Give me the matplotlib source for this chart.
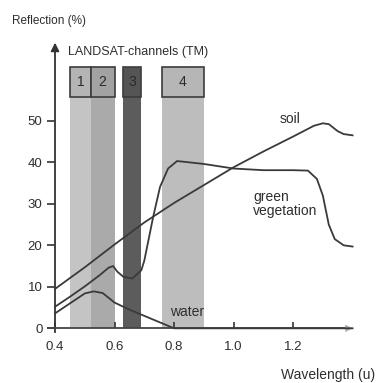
import matplotlib
matplotlib.use("Agg")
import matplotlib.pyplot as plt
from matplotlib.patches import Rectangle

plt.rcParams['font.family'] = ['Liberation Sans', 'DejaVu Sans']

# ---- data ----
soil_x = [0.40, 0.50, 0.60, 0.70, 0.80, 0.90, 1.00, 1.10, 1.20, 1.27, 1.30, 1.32, 1.35, 1.37, 1.40]
soil_y = [9.5, 14.7, 20.2, 25.5, 30.2, 34.5, 38.8, 42.6, 46.2, 48.8, 49.4, 49.2, 47.5, 46.8, 46.5]

veg_x = [0.40, 0.45, 0.50, 0.55, 0.58, 0.595, 0.61, 0.63, 0.66, 0.69, 0.70, 0.73, 0.753, 0.78,
         0.81, 0.85, 0.90, 1.00, 1.10, 1.20, 1.25, 1.28, 1.30, 1.32, 1.34, 1.37, 1.40]
veg_y = [5.2, 7.6, 10.1, 12.8, 14.6, 15.0, 13.6, 12.4, 12.0, 14.0, 16.3, 26.9, 34.1, 38.5,
         40.3, 40.0, 39.6, 38.5, 38.1, 38.1, 38.0, 36.0, 32.0, 25.0, 21.5, 20.0, 19.7]

water_x = [0.40, 0.45, 0.50, 0.53, 0.56, 0.60, 0.65, 0.70, 0.75, 0.80, 1.00, 1.20, 1.40]
water_y = [3.6, 6.0, 8.4, 8.9, 8.5, 6.2, 4.5, 3.0, 1.5, 0.0, 0.0, 0.0, 0.0]

band_names = ['1', '2', '3', '4']
band_lo = [0.45, 0.52, 0.63, 0.76]
band_hi = [0.52, 0.60, 0.69, 0.90]

y_ticks = [0, 10, 20, 30, 40, 50]
x_ticks = [0.4, 0.6, 0.8, 1.0, 1.2]
x_tick_labels = ['0.4', '0.6', '0.8', '1.0', '1.2']

# ---- styles ----
band_colors = ['#c4c4c4', '#aaaaaa', '#5c5c5c', '#bdbdbd']
box_colors = ['#b4b4b4', '#a2a2a2', '#555555', '#b6b6b6']
line_color = '#3a3a3a'
text_color = '#2e2e2e'
band_top = 55.7
box_top = 63.0

fig = plt.figure(figsize=(3.78, 3.83), dpi=100)
fig.patch.set_facecolor('white')
ax = fig.add_axes([0.0905, 0.1103, 0.858, 0.791])
ax.set_facecolor('none')
ax.set_xlim(0.33, 1.42)
ax.set_ylim(-3, 70)

# bands
for lo, hi, c in zip(band_lo, band_hi, band_colors):
    ax.bar(lo, band_top, width=hi - lo, bottom=0, align='edge', color=c, edgecolor='none', zorder=1)
for name, lo, hi, c in zip(band_names, band_lo, band_hi, box_colors):
    ax.add_patch(Rectangle((lo, band_top), hi - lo, box_top - band_top, facecolor=c,
                           edgecolor='#3c3c3c', linewidth=1.2, zorder=2))
    ax.text((lo + hi) / 2, (band_top + box_top) / 2, name, ha='center', va='center',
            fontsize=10, color='#2a2a2a', zorder=3)

# curves
ax.plot(soil_x, soil_y, color=line_color, lw=1.3, zorder=4)
ax.plot(veg_x, veg_y, color=line_color, lw=1.3, zorder=4)
ax.plot(water_x, water_y, color=line_color, lw=1.3, zorder=4)

# curve labels
ax.text(1.19, 50.4, 'soil', ha='center', va='center', fontsize=10, color=text_color, zorder=5)
ax.text(1.066, 30.0, 'green\nvegetation', ha='left', va='center', fontsize=10,
        color=text_color, linespacing=1.0, zorder=5)
ax.text(0.785, 4.0, 'water', ha='left', va='center', fontsize=10, color=text_color, zorder=5)

# axes
for s in ['top', 'right', 'bottom', 'left']:
    ax.spines[s].set_visible(False)
ax.set_xticks(x_ticks)
ax.set_xticklabels(x_tick_labels)
ax.set_yticks(y_ticks)
ax.set_yticklabels([str(v) for v in y_ticks])
ax.tick_params(axis='y', direction='out', length=6, width=1.2, color='#333333',
               labelsize=9.5, labelcolor=text_color, pad=3)
ax.tick_params(axis='x', direction='in', length=4, width=1.2, color='#333333',
               labelsize=9.5, labelcolor=text_color, pad=9)
ax.spines['left'].set_visible(True)
ax.spines['left'].set_position(('data', 0.4))
ax.spines['left'].set_bounds(-1.0, 67)
ax.spines['left'].set_linewidth(1.3)
ax.spines['left'].set_color('#333333')
ax.spines['bottom'].set_visible(True)
ax.spines['bottom'].set_position(('data', 0))
ax.spines['bottom'].set_bounds(0.375, 1.39)
ax.spines['bottom'].set_linewidth(1.3)
ax.spines['bottom'].set_color('#444444')

# arrow heads
ax.annotate('', xy=(0.4, 69.5), xytext=(0.4, 66),
            arrowprops=dict(arrowstyle='-|>', color='#333333', lw=1.3, mutation_scale=12))
ax.annotate('', xy=(1.41, 0), xytext=(1.37, 0),
            arrowprops=dict(arrowstyle='-|>', color='#b0b0b0', lw=1.0, mutation_scale=10))

# titles
fig.text(12 / 378, 1 - 21 / 383, 'Reflection (%)', ha='left', va='center', fontsize=8.5, color=text_color)
fig.text(68 / 378, 1 - 52 / 383, 'LANDSAT-channels (TM)', ha='left', va='center', fontsize=9, color=text_color)
fig.text(375 / 378, 1 - 375 / 383, 'Wavelength (u)', ha='right', va='center', fontsize=10, color=text_color)

fig.savefig('out.png', dpi=100, facecolor='white')
